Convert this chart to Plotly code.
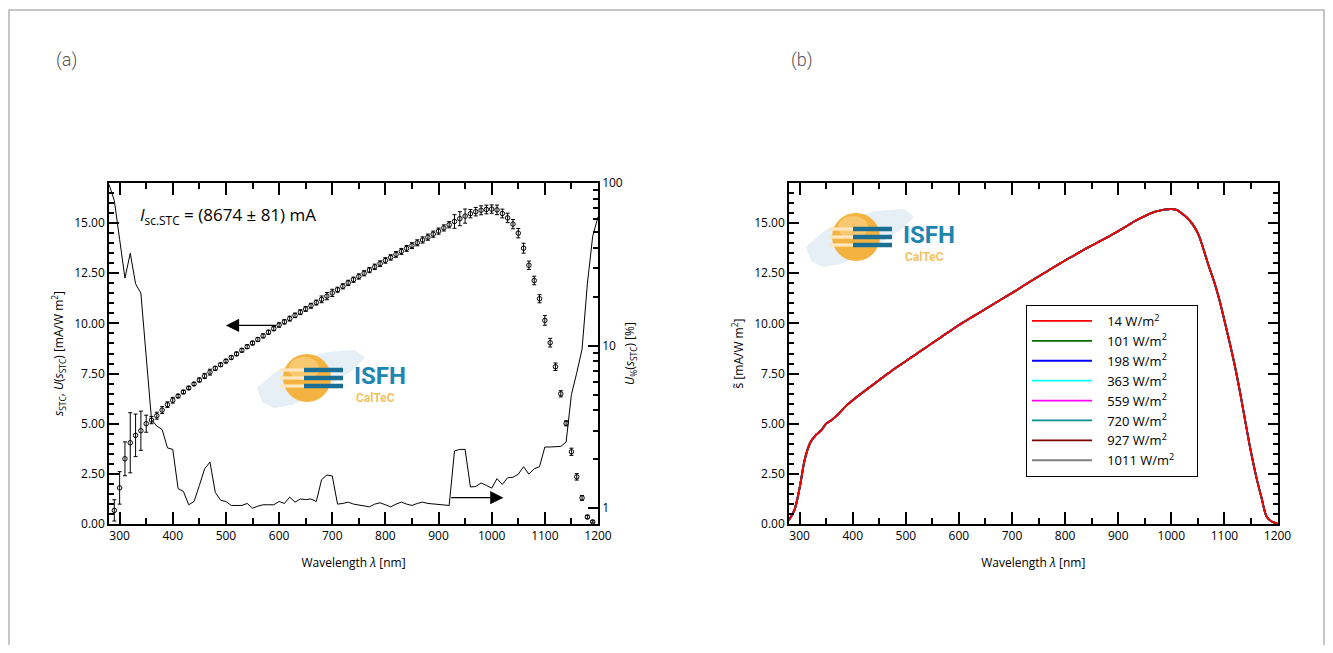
import plotly.graph_objects as go

# page body has an 8 px margin, so the figure is drawn at (8, 8)
OFF = 8
W, H = 1333 - 2 * OFF, 653 - 2 * OFF

# ---------------- data ----------------
wavelength = list(range(280, 1201, 10))

s_stc = [0.20, 0.68, 1.80, 3.25, 4.05, 4.42, 4.65, 5.00, 5.18, 5.40,
         5.68, 5.95, 6.17, 6.38, 6.58, 6.78, 6.98, 7.18, 7.38, 7.57,
         7.76, 7.94, 8.12, 8.30, 8.48, 8.66, 8.84, 9.02, 9.20, 9.38,
         9.56, 9.74, 9.92, 10.08, 10.24, 10.40, 10.56, 10.72, 10.88, 11.04,
         11.20, 11.36, 11.52, 11.68, 11.85, 12.02, 12.18, 12.34, 12.50, 12.66,
         12.82, 12.98, 13.14, 13.29, 13.44, 13.59, 13.74, 13.88, 14.02, 14.16,
         14.30, 14.45, 14.60, 14.76, 14.92, 15.08, 15.22, 15.35, 15.47, 15.57,
         15.64, 15.68, 15.70, 15.66, 15.48, 15.26, 14.95, 14.50, 13.75, 12.90,
         12.14, 11.23, 10.15, 9.04, 7.84, 6.49, 5.02, 3.60, 2.35, 1.30,
         0.35, 0.11, 0.03]

u_percent = [98, 78, 45, 26, 37, 24, 21, 8.5, 3.5, 3.2,
             3.05, 2.35, 2.3, 1.32, 1.27, 1.05, 1.10, 1.38, 1.75, 1.92,
             1.25, 1.12, 1.10, 1.04, 1.04, 1.04, 1.07, 1.00, 1.03, 1.05,
             1.05, 1.05, 1.10, 1.07, 1.17, 1.09, 1.14, 1.13, 1.14, 1.10,
             1.50, 1.60, 1.58, 1.06, 1.07, 1.09, 1.06, 1.05, 1.04, 1.02,
             1.06, 1.08, 1.05, 1.02, 1.06, 1.09, 1.06, 1.04, 1.07, 1.09,
             1.07, 1.06, 1.05, 1.04, 1.04, 2.25, 2.30, 2.30, 1.35, 1.36,
             1.43, 1.38, 1.33, 1.52, 1.40, 1.54, 1.55, 1.62, 1.80, 1.62,
             1.75, 1.80, 2.38, 2.38, 2.38, 2.40, 2.55, 5.0, 6.8, 9.5,
             24, 47, 62]

irradiance_labels = ["14", "101", "198", "363", "559", "720", "927", "1011"]
irradiance_colors = ["#ff0000", "#007000", "#0000ff", "#00ffff",
                     "#ff00ff", "#009090", "#800000", "#808080"]

x_ticks = list(range(300, 1201, 100))
y_ticks = [0, 2.5, 5, 7.5, 10, 12.5, 15]
log_ticks = [1, 10, 100]
log_minor = [2, 3, 4, 5, 6, 7, 8, 9, 20, 30, 40, 50, 60, 70, 80, 90]

# ---------------- helpers (page pixel -> paper) ----------------
def px(x):
    return (x - OFF) / W

def py(y):
    return 1 - (y - OFF) / H

FONT = "Open Sans, Noto Sans, sans-serif"

fig = go.Figure()

# ---- panel (a) ----
u_abs = [s * u / 100 for s, u in zip(s_stc, u_percent)]
fig.add_trace(go.Scatter(
    x=wavelength[1:-1], y=s_stc[1:-1], mode="markers",
    marker=dict(symbol="circle-open", size=4.5, color="black", line=dict(width=1, color="black")),
    error_y=dict(type="data", array=u_abs[1:-1], color="black", thickness=1, width=2),
    xaxis="x", yaxis="y", showlegend=False, hoverinfo="skip"))

fig.add_trace(go.Scatter(
    x=wavelength, y=u_percent, mode="lines",
    line=dict(color="black", width=1),
    xaxis="x", yaxis="y2", showlegend=False, hoverinfo="skip"))

# ---- panel (b) ----
for lab, col in reversed(list(zip(irradiance_labels, irradiance_colors))):
    fig.add_trace(go.Scatter(
        x=wavelength, y=s_stc, mode="lines", line=dict(color=col, width=1.8, shape="spline"),
        name="\u00a0" * 3 + f"{lab} W/m<sup>2</sup>" + "\u00a0" * 5,
        xaxis="x2", yaxis="y3", hoverinfo="skip"))

axis_common = dict(showgrid=False, zeroline=False, showline=True, linecolor="black", linewidth=1.5,
                   tickfont=dict(family=FONT, size=12, color="black"),
                   tickcolor="black", tickwidth=1.5, automargin=False)

xdom_a = [px(109), px(598)]
xdom_b = [px(789), px(1277.5)]
ydom = [py(524), py(183)]

xaxis_style = dict(range=[280, 1200], tickvals=x_ticks, ticks="inside", ticklen=12,
                   minor=dict(ticks="inside", dtick=50, tick0=0, ticklen=6, tickcolor="black", tickwidth=1.5),
                   mirror="ticks",
                   title=dict(text="Wavelength <i>λ</i> [nm]", font=dict(family=FONT, size=12, color="black"), standoff=15),
                   **axis_common)

yaxis_style = dict(range=[0, 17], tickvals=y_ticks, tickformat=".2f", ticks="inside", ticklen=10,
                   minor=dict(ticks="inside", dtick=0.5, tick0=0, ticklen=5, tickcolor="black", tickwidth=1.5),
                   **axis_common)

fig.update_layout(
    width=W, height=H,
    margin=dict(l=0, r=0, t=0, b=0, autoexpand=False),
    paper_bgcolor="white", plot_bgcolor="white",
    xaxis=dict(domain=xdom_a, anchor="y", **xaxis_style),
    yaxis=dict(domain=ydom, anchor="x", mirror=False,
               title=dict(text="<i>s</i><sub>STC</sub>, <i>U</i>(<i>s</i><sub>STC</sub>) [mA/W m<sup>2</sup>]",
                          font=dict(family=FONT, size=12, color="black"), standoff=8),
               **yaxis_style),
    yaxis2=dict(overlaying="y", anchor="x", side="right", type="log", range=[-0.097, 2.0],
                tickvals=log_ticks, ticktext=["1", "10", "100"], ticks="inside", ticklen=10,
                minor=dict(ticks="inside", tickvals=log_minor, ticklen=5, tickcolor="black", tickwidth=1.5),
                title=dict(text="<i>U</i><sub>%</sub>(<i>s</i><sub>STC</sub>) [%]",
                           font=dict(family=FONT, size=12, color="black"), standoff=4),
                **axis_common),
    xaxis2=dict(domain=xdom_b, anchor="y3", **xaxis_style),
    yaxis3=dict(domain=ydom, anchor="x2", mirror="ticks",
                title=dict(text="s̃ [mA/W m<sup>2</sup>]", font=dict(family=FONT, size=12, color="black"), standoff=8),
                **yaxis_style),
    legend=dict(x=px(1026), y=py(305), xanchor="left", yanchor="top",
                bordercolor="black", borderwidth=1, bgcolor="white",
                traceorder="reversed", itemwidth=60,
                font=dict(family=FONT, size=13, color="black"),
                tracegroupgap=0),
)

annotations = []
shapes = []

# panel labels
for txt, xx in (("(a)", 54), ("(b)", 789)):
    annotations.append(dict(text=txt, xref="paper", yref="paper", x=px(xx), y=py(60),
                            xanchor="left", yanchor="middle", showarrow=False,
                            font=dict(family="Roboto, sans-serif", size=18, color="#555", weight=300)))

# Isc annotation
annotations.append(dict(text="<i>I</i><sub>sc.STC</sub> = (8674 ± 81) mA", xref="paper", yref="paper",
                        x=px(138), y=py(215), xanchor="left", yanchor="middle", showarrow=False,
                        font=dict(family=FONT, size=17, color="black")))

# arrows
annotations.append(dict(x=500, y=9.9, ax=597, ay=9.9, xref="x", yref="y", axref="x", ayref="y",
                        text="", showarrow=True, arrowhead=2, arrowsize=2.2, arrowwidth=1.2, arrowcolor="black"))
annotations.append(dict(x=1022, y=1.31, ax=921, ay=1.31, xref="x", yref="y", axref="x", ayref="y",
                        text="", showarrow=True, arrowhead=2, arrowsize=2.2, arrowwidth=1.2, arrowcolor="black"))

# outer frame
shapes.append(dict(type="rect", xref="paper", yref="paper", x0=px(9), x1=px(1324), y0=py(720), y1=py(10),
                   line=dict(color="#b4b4b4", width=1.5), fillcolor="rgba(0,0,0,0)", layer="below"))


def add_logo(cx, cy):
    # speckle cloud
    pts = [(-45, 24), (-50, 10), (-32, -6), (-8, -18), (20, -26), (48, -28), (58, -20),
           (46, -8), (28, 4), (8, 16), (-15, 27), (-33, 30)]
    path = "M " + " L ".join(f"{px(cx + a)},{py(cy + b)}" for a, b in pts) + " Z"
    shapes.append(dict(type="path", xref="paper", yref="paper", path=path,
                       fillcolor="rgba(140,180,215,0.22)", line=dict(width=0), layer="above"))
    # sun
    R = 24
    shapes.append(dict(type="circle", xref="paper", yref="paper",
                       x0=px(cx - R), x1=px(cx + R), y0=py(cy + R), y1=py(cy - R),
                       fillcolor="#F4B340", line=dict(width=0), layer="above"))
    shapes.append(dict(type="circle", xref="paper", yref="paper",
                       x0=px(cx - R + 6), x1=px(cx + R - 12), y0=py(cy + 2), y1=py(cy - R + 3),
                       fillcolor="#F8C870", line=dict(width=0), layer="above"))
    # light stripes on the left
    for dy in (-8, 0, 8):
        shapes.append(dict(type="rect", xref="paper", yref="paper",
                           x0=px(cx - 27), x1=px(cx - 3), y0=py(cy + dy + 1.6), y1=py(cy + dy - 1.6),
                           fillcolor="#FCE7BE", line=dict(width=0), layer="above"))
    # dark stripes
    for dy in (-8, 0, 8):
        shapes.append(dict(type="rect", xref="paper", yref="paper",
                           x0=px(cx - 3), x1=px(cx + 36), y0=py(cy + dy + 2.2), y1=py(cy + dy - 2.2),
                           fillcolor="#1B6F95", line=dict(width=0), layer="above"))
    annotations.append(dict(text="<b>ISFH</b>", xref="paper", yref="paper", x=px(cx + 45), y=py(cy - 2),
                            xanchor="left", yanchor="middle", showarrow=False,
                            font=dict(family="Roboto, sans-serif", size=24, color="#1D85B2")))
    annotations.append(dict(text="<b>CalTeC</b>", xref="paper", yref="paper", x=px(cx + 47), y=py(cy + 20),
                            xanchor="left", yanchor="middle", showarrow=False,
                            font=dict(family="Roboto, sans-serif", size=12, color="#F2C262")))


add_logo(307, 378)
add_logo(856, 237)

fig.update_layout(annotations=annotations, shapes=shapes)

fig.write_html("out.html")
